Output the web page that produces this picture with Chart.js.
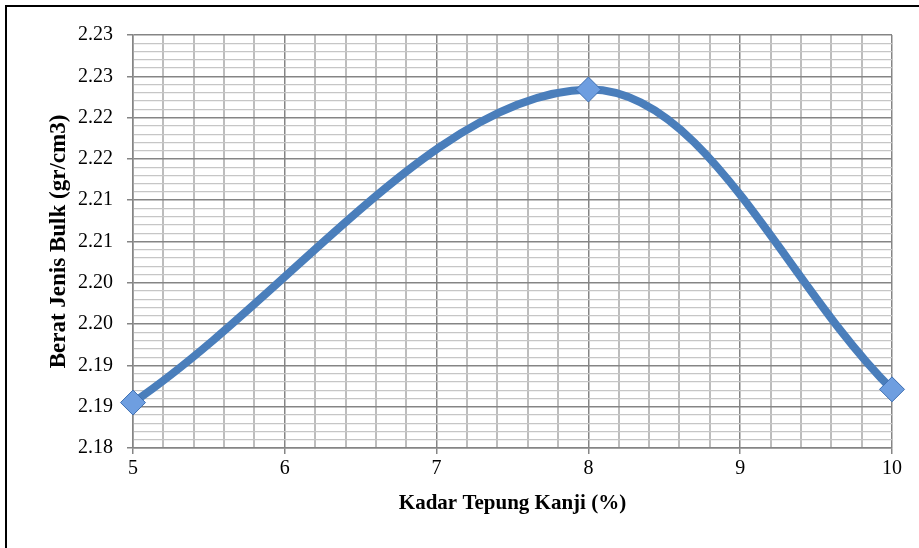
<!DOCTYPE html>
<html>
<head>
<meta charset="utf-8">
<script src="https://cdn.jsdelivr.net/npm/chart.js@4/dist/chart.umd.min.js"></script>
<style>
  html, body { margin: 0; padding: 0; background: #fff; overflow: hidden; }
  #frame { position: absolute; left: 5px; top: 5px; width: 940px; height: 570px; border: 2px solid #000; }
  #wrap { position: absolute; left: 0; top: 0; width: 919px; height: 548px; }
</style>
</head>
<body>
<div id="frame"></div>
<div id="wrap"><canvas id="chart"></canvas></div>
<script>
// Data
const kadar = [5, 8, 10];                       // Kadar Tepung Kanji (%)
const beratJenis = [2.1855, 2.2234, 2.1871];    // Berat Jenis Bulk (gr/cm3)
const xTickLabels = ['5', '6', '7', '8', '9', '10'];
const yTickLabels = ['2.18', '2.19', '2.19', '2.20', '2.20', '2.21', '2.21', '2.22', '2.22', '2.23', '2.23'];

const points = kadar.map((x, i) => ({ x: x, y: beratJenis[i] }));

const serif = '"Liberation Serif", "Times New Roman", serif';

// major every 1 on x (minor 0.2), every 0.005 on y (minor 0.001)
function xIndex(v) { return Math.round((v - 5) / 0.2); }
function yIndex(v) { return Math.round((v - 2.18) / 0.001); }

const ctx = document.getElementById('chart');
const chart = new Chart(ctx, {
  type: 'line',
  data: {
    datasets: [{
      label: 'Berat Jenis Bulk',
      data: points,
      borderColor: '#4a7ebb',
      borderWidth: 8,
      tension: 0.35,
      clip: false,
      pointStyle: 'rectRot',
      pointRadius: 12.5,
      pointBackgroundColor: '#6e9ee0',
      pointBorderColor: '#3d6eb1',
      pointBorderWidth: 1,
      fill: false
    }]
  },
  options: {
    responsive: true,
    maintainAspectRatio: false,
    animation: false,
    layout: { padding: { left: 0, top: 35, right: 27, bottom: 0 } },
    plugins: {
      legend: { display: false },
      tooltip: { enabled: false }
    },
    scales: {
      x: {
        type: 'linear',
        min: 5,
        max: 10,
        afterFit: (scale) => { scale.height = 100; },
        ticks: {
          stepSize: 0.2,
          autoSkip: false,
          maxRotation: 0,
          padding: 3,
          color: '#000',
          font: { family: serif, size: 20 },
          callback: (v) => {
            const i = xIndex(v);
            return i % 5 === 0 ? xTickLabels[i / 5] : '';
          }
        },
        grid: {
          color: (c) => xIndex(c.tick.value) % 5 === 0 ? '#858585' : '#bdbdbd',
          lineWidth: (c) => xIndex(c.tick.value) % 5 === 0 ? 1.5 : 2,
          tickColor: (c) => xIndex(c.tick.value) % 5 === 0 ? '#858585' : 'rgba(0,0,0,0)',
          tickLength: 6
        },
        border: { color: '#858585', width: 1.5 },
        title: {
          display: true,
          text: 'Kadar Tepung Kanji (%)',
          color: '#000',
          font: { family: serif, size: 21, weight: 'bold' },
          padding: { top: 0, bottom: 32 }
        }
      },
      y: {
        type: 'linear',
        min: 2.18,
        max: 2.23,
        afterFit: (scale) => { scale.width = 133; },
        ticks: {
          stepSize: 0.001,
          autoSkip: false,
          padding: 14,
          color: '#000',
          font: { family: serif, size: 20 },
          callback: (v) => {
            const i = yIndex(v);
            return i % 5 === 0 ? yTickLabels[i / 5] : '';
          }
        },
        grid: {
          color: (c) => yIndex(c.tick.value) % 5 === 0 ? '#858585' : '#c6c6c6',
          lineWidth: (c) => yIndex(c.tick.value) % 5 === 0 ? 1.5 : 1.2,
          tickColor: (c) => yIndex(c.tick.value) % 5 === 0 ? '#858585' : 'rgba(0,0,0,0)',
          tickLength: 6
        },
        border: { color: '#858585', width: 1.5 },
        title: {
          display: true,
          text: 'Berat Jenis Bulk (gr/cm3)',
          color: '#000',
          font: { family: serif, size: 23, weight: 'bold' },
          padding: { top: 45, bottom: 0 }
        }
      }
    }
  }
});
</script>
</body>
</html>
